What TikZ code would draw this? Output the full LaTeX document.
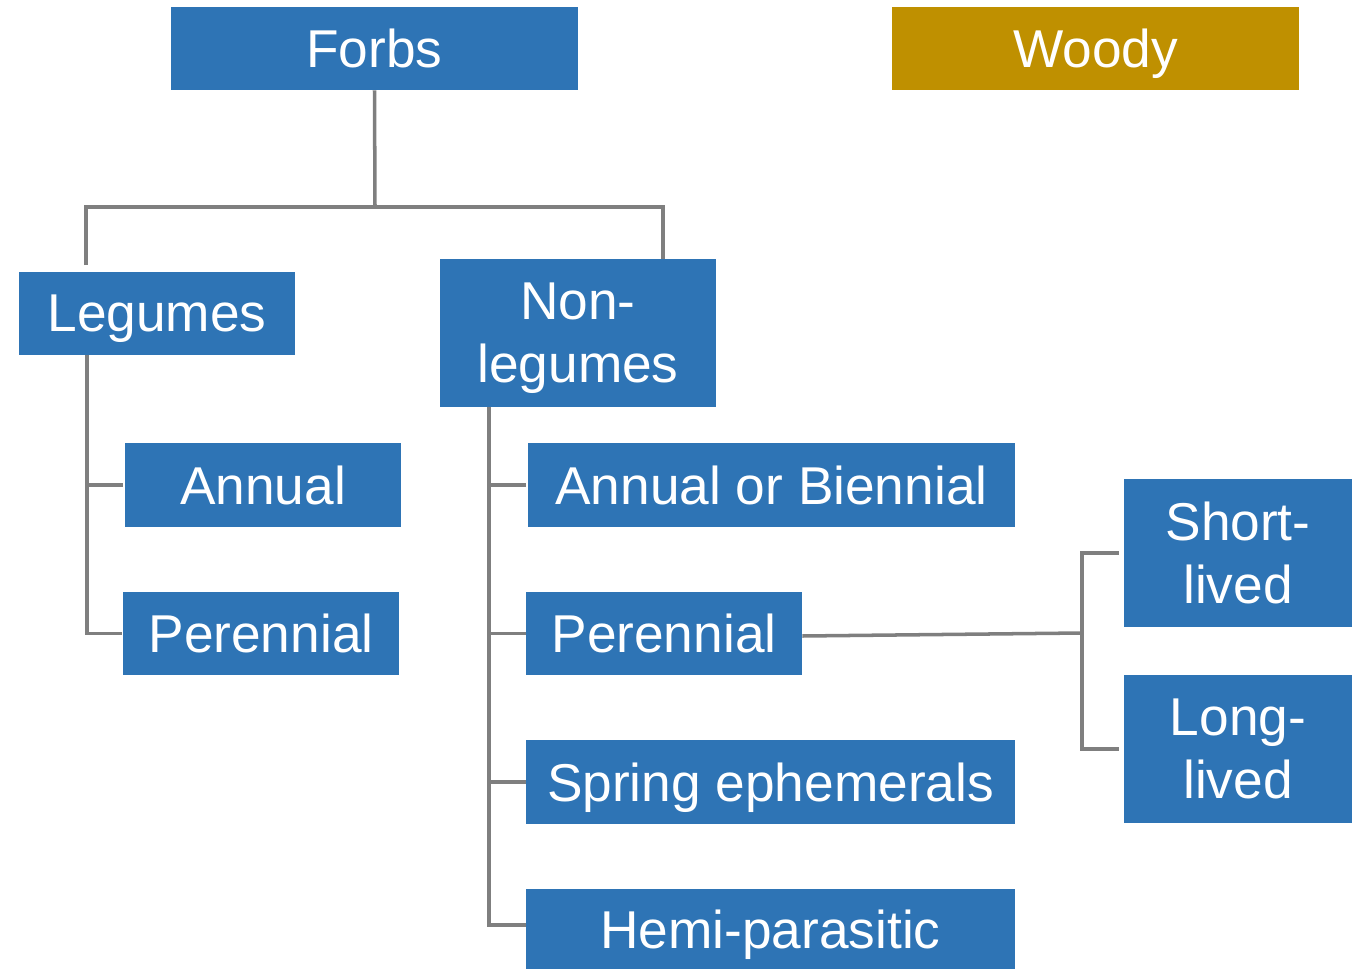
\documentclass[tikz,border=0pt]{standalone}
\usepackage{fontspec}
\setmainfont{Liberation Sans}
\definecolor{boxblue}{HTML}{2E74B5}
\definecolor{boxgold}{HTML}{BF9000}
\definecolor{linegray}{HTML}{7F7F7F}
\begin{document}
\begin{tikzpicture}[
  box/.style={fill=boxblue, draw=none, text=white, align=center, inner sep=0pt,
    text depth=0pt, font=\fontsize{30.3}{36}\selectfont},
  conn/.style={draw=linegray, line width=2pt}
]
\useasboundingbox (0,0) rectangle (27.24,-19.40);
\node[box, fill=boxgold, minimum width=8.14cm, minimum height=1.66cm] (woody) at (21.91,-0.97) {Woody};
\node[box, minimum width=8.14cm, minimum height=1.66cm] (forbs) at (7.49,-0.97) {Forbs};
\node[box, minimum width=5.52cm, minimum height=1.66cm] (leg) at (3.14,-6.27) {Legumes};
\node[box, minimum width=5.52cm, minimum height=2.96cm] (nonleg) at (11.56,-6.66) {Non-\\legumes};
\node[box, minimum width=5.52cm, minimum height=1.68cm] (annL) at (5.26,-9.70) {Annual};
\node[box, minimum width=5.52cm, minimum height=1.66cm] (perL) at (5.22,-12.67) {Perennial};
\node[box, minimum width=9.74cm, minimum height=1.68cm] (annbi) at (15.43,-9.70) {Annual or Biennial};
\node[box, minimum width=5.52cm, minimum height=1.66cm] (perM) at (13.28,-12.67) {Perennial};
\node[box, minimum width=9.78cm, minimum height=1.68cm] (spring) at (15.41,-15.64) {Spring ephemerals};
\node[box, minimum width=9.78cm, minimum height=1.60cm] (hemi) at (15.41,-18.58) {Hemi-parasitic};
\node[box, minimum width=4.56cm, minimum height=2.96cm] (short) at (24.76,-11.06) {Short-\\lived};
\node[box, minimum width=4.56cm, minimum height=2.96cm] (long) at (24.76,-14.98) {Long-\\lived};

% Forbs branching
\coordinate (fj) at (7.50,-4.14);
\coordinate (legtop) at (1.72,-5.30);
\coordinate (nontop) at (13.26,-5.18);
\draw[conn] (forbs.south) -- (fj);
\draw[conn] (legtop) |- (fj) -| (nontop);

% Legumes children
\coordinate (lx) at (1.74,0);
\draw[conn] (lx |- leg.south) |- ([xshift=-0.02cm]perL.west);
\draw[conn] (lx |- annL.west) -- ([xshift=-0.04cm]annL.west);

% Non-legumes children
\coordinate (nx) at (9.78,0);
\draw[conn] (nx |- nonleg.south) |- ([yshift=0.08cm]hemi.west);
\draw[conn] (nx |- annbi.west) -- ([xshift=-0.04cm]annbi.west);
\draw[conn] (nx |- perM.west) -- (perM.west);
\draw[conn] (nx |- spring.west) -- (spring.west);

% Perennial to short/long lived
\coordinate (bx) at (21.64,-12.66);
\draw[conn] ([yshift=-0.05cm]perM.east) -- (bx);
\draw[conn] ([xshift=-0.10cm]short.west) -| (bx |- short.west) -- (bx |- long.west) -- ([xshift=-0.10cm]long.west);
\end{tikzpicture}
\end{document}
